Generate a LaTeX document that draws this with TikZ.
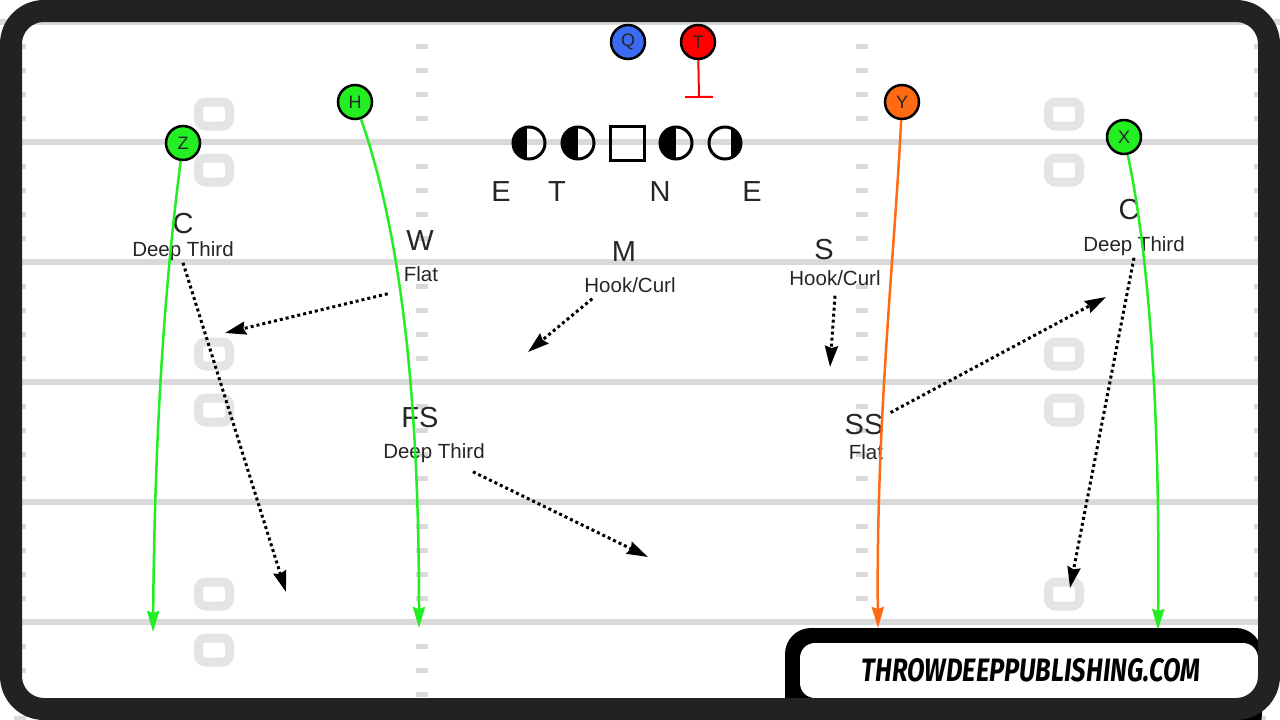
\documentclass[tikz,border=0pt]{standalone}
\usepackage{graphicx}
\usepackage{fontspec}
\setmainfont{Liberation Sans}
\newfontfamily\logofont{Fira Sans}
\usepackage{tikz}
\usetikzlibrary{arrows.meta,positioning,calc}

\definecolor{framedark}{HTML}{222222}
\definecolor{yardgray}{HTML}{D9D9D9}
\definecolor{numgray}{HTML}{E4E4E4}
\definecolor{wrgreen}{HTML}{22EE22}
\definecolor{teorange}{HTML}{FF6A13}
\definecolor{qbblue}{HTML}{3A6BF2}
\definecolor{tackred}{HTML}{FF0000}
\definecolor{inkgray}{HTML}{262626}

\tikzset{
  player/.style={circle,draw=black,line width=2.5pt,minimum size=34pt,inner sep=0pt,text=inkgray,font=\fontsize{18}{18}\selectfont},
  lineman/.style={circle,draw=black,line width=3pt,minimum size=32pt,inner sep=0pt},
  route/.style={line width=2.5pt,-{Stealth[length=21pt,width=12pt,inset=2pt]}},
  zone/.style={line width=3pt,dash pattern=on 3pt off 3pt,-{Stealth[length=21pt,width=13pt,inset=2pt]}},
  bigname/.style={text=inkgray,inner sep=2pt,font=\fontsize{29}{32}\selectfont},
  zonename/.style={text=inkgray,inner sep=2pt,font=\fontsize{20.5}{22}\selectfont},
  yardline/.style={yardgray,line width=6pt},
}

\begin{document}
\begin{tikzpicture}[x=1pt,y=-1pt]

      \useasboundingbox (0,0) rectangle (1280,720);
      \fill[white] (0,0) rectangle (1280,720);

      % field
      \foreach \ly in {22,142,...,622}
        \draw[yardline] (0,\ly) -- (1280,\ly);
      \foreach \hx in {20,422,862,1260}
        \foreach \ly in {22,142,...,622}
          \foreach \dy in {24,48,72,96}
            \fill[yardgray] ({\hx-6},{\ly+\dy-2.5}) rectangle ({\hx+6},{\ly+\dy+2.5});
      \foreach \nx in {214,1064}
        \foreach \ly in {142,382,622}
          \foreach \dy in {-28,28}
            \draw[numgray,line width=9pt,rounded corners=7pt] ({\nx-15.5},{\ly+\dy-12}) rectangle ({\nx+15.5},{\ly+\dy+12});

      % defensive front
      \node[lineman,path picture={\fill (path picture bounding box.south west) rectangle ([xshift=-2pt]path picture bounding box.north);}] (le) at (529,143) {};
      \node[lineman,path picture={\fill (path picture bounding box.south west) rectangle (path picture bounding box.north);}] (lt) at (578,143) {};
      \node[draw=black,line width=3pt,minimum size=34pt,inner sep=0pt] (ln) at (627,143) {};
      \node[lineman,path picture={\fill (path picture bounding box.south west) rectangle (path picture bounding box.north);}] (lg) at (676,143) {};
      \node[lineman,path picture={\fill ([xshift=6pt]path picture bounding box.south) rectangle (path picture bounding box.north east);}] (lre) at (725,143) {};

      \node[bigname] (dle) at (501,192) {E};
      \node[bigname] (dt) at (557,192) {T};
      \node[bigname] (dn) at (660,192) {N};
      \node[bigname] (dre) at (752,192) {E};

      % offense
      \node[player,fill=qbblue] (rq) at (628,42) {Q};
      \node[player,fill=tackred] (rt) at (698,42) {T};
      \node[player,fill=wrgreen] (rz) at (183,143) {Z};
      \node[player,fill=wrgreen] (rh) at (355,102) {H};
      \node[player,fill=teorange] (ry) at (902,102) {Y};
      \node[player,fill=wrgreen] (rx) at (1124,137) {X};

      \coordinate (tblock) at (699,98);
      \draw[tackred,line width=2pt,-{Bar[width=28pt,line width=2pt]}] (rt) -- (tblock);

      % coverage
      \node[bigname] (cl) at (183,224) {C};
      \node[zonename] (clzone) at (183,251) {Deep Third};
      \node[bigname] (w) at (420,241) {W};
      \node[zonename] (wzone) at (421,274) {Flat};
      \node[bigname] (m) at (624,252) {M};
      \node[zonename] (mzone) at (630,285) {Hook/Curl};
      \node[bigname] (s) at (824,250) {S};
      \node[zonename] (szone) at (835,278) {Hook/Curl};
      \node[bigname] (fs) at (420,418) {FS};
      \node[zonename] (fszone) at (434,453) {Deep Third};
      \node[bigname] (ss) at (864,425) {SS};
      \node[zonename] (sszone) at (866,452) {Flat};
      \node[bigname] (cr) at (1129,210) {C};
      \node[zonename] (crzone) at (1134,246) {Deep Third};

      \coordinate (cldrop) at (286,592);
      \coordinate (wdrop) at (225,333);
      \coordinate (mdrop) at (528,352);
      \coordinate (sdrop) at (830,367);
      \coordinate (fsdrop) at (648,557);
      \coordinate (ssdrop) at (1106,297);
      \coordinate (crdrop) at (1070,588);

      \draw[zone] (clzone.south) -- (cldrop);
      \draw[zone] ([xshift=-14pt,yshift=-10pt]wzone.south west) -- (wdrop);
      \draw[zone] ([xshift=10pt,yshift=-4pt]mzone.south west) -- (mdrop);
      \draw[zone] ([yshift=-8pt]szone.south) -- (sdrop);
      \draw[zone] ([xshift=-14pt,yshift=-7pt]fszone.south east) -- (fsdrop);
      \draw[zone] ([xshift=5pt]ss.north east) -- (ssdrop);
      \draw[zone] (crzone.south) -- (crdrop);

      % routes
      \coordinate (zend) at (153,632);
      \coordinate (hend) at (419,628);
      \coordinate (yend) at (878,628);
      \coordinate (xend) at (1158,630);

      \draw[route,wrgreen] (rz) .. controls (168,260) and (155,400) .. (zend);
      \draw[route,wrgreen] (rh) .. controls (398,225) and (419,380) .. (hend);
      \draw[route,teorange] (ry) .. controls (895,250) and (876,420) .. (yend);
      \draw[route,wrgreen] (rx) .. controls (1150,260) and (1160,420) .. (xend);

      % logo
      \fill[black,rounded corners=26pt] (785,628) rectangle (1262,740);
      \fill[white,rounded corners=15pt] (800,643) rectangle (1258,698);
      \node (logo) at (1031,670.5) {\resizebox{338pt}{23pt}{\logofont\bfseries\itshape THROWDEEPPUBLISHING.COM}};

      % frame
      \draw[framedark,line width=22pt,rounded corners=33pt] (11,11) rectangle (1269,709);

\end{tikzpicture}
\end{document}
